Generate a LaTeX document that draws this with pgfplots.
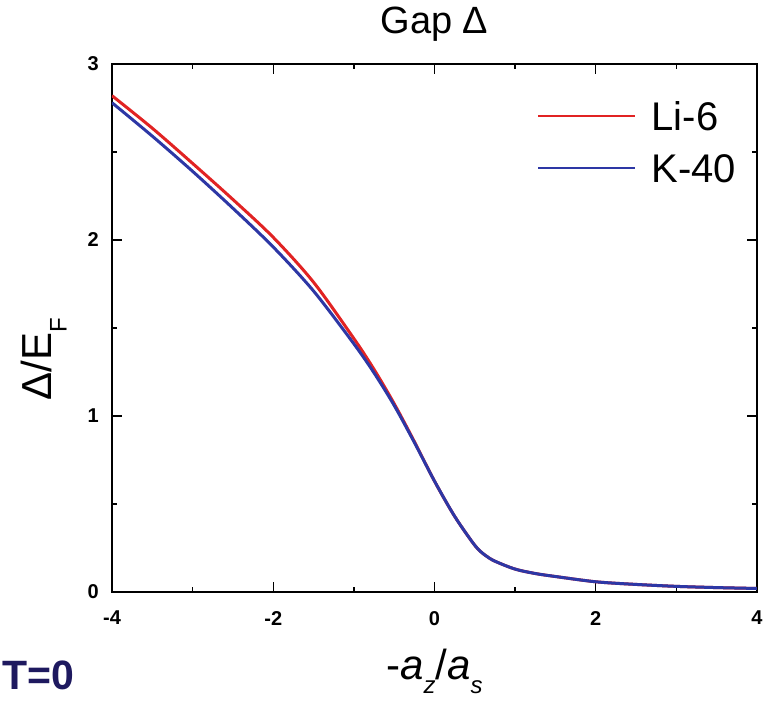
\documentclass[border=0pt]{standalone}
\usepackage{pgfplots}
\pgfplotsset{compat=1.18}
\usepackage{fontspec}
\setmainfont{Liberation Sans}
\definecolor{lired}{RGB}{225,35,35}
\definecolor{kblue}{RGB}{45,55,165}
\definecolor{navy}{RGB}{30,25,95}
\begin{document}
\begin{tikzpicture}
\path (-112pt,-111pt) rectangle (652pt,592pt);
\begin{axis}[
  scale only axis, width=645pt, height=528pt,
  xmin=-4, xmax=4, ymin=0, ymax=3,
  xtick={-4,-2,0,2,4}, ytick={0,1,2,3},
  minor xtick={-3,-1,1,3}, minor ytick={0.5,1.5,2.5},
  tick align=inside, major tick length=10pt, minor tick length=5pt,
  axis line style={line width=1.6pt},
  every tick/.append style={black, line width=1.4pt},
  /pgf/number format/assume math mode=true,
  tick label style={font=\fontsize{20}{20}\selectfont\bfseries, inner sep=0pt},
  xticklabel style={anchor=north, yshift=-19pt},
  yticklabel style={anchor=east, xshift=-13pt},
  title={Gap Δ},
  title style={at={(axis description cs:0.5,1)}, anchor=base, yshift=24pt, inner sep=0pt, font=\fontsize{38}{38}\selectfont},
  xlabel={-\textit{a}\raisebox{-14pt}{\fontsize{24}{24}\selectfont\textit{z}}/\textit{a}\raisebox{-14pt}{\fontsize{24}{24}\selectfont\textit{s}}},
  xlabel style={at={(axis description cs:0.5,0)}, anchor=base, yshift=-88pt, inner sep=0pt, font=\fontsize{42}{42}\selectfont},
  ylabel={Δ/E\raisebox{-15pt}{\fontsize{24}{24}\selectfont F}},
  ylabel style={at={(axis description cs:-0.1054,0.4403)}, anchor=center, inner sep=0pt, font=\fontsize{42}{42}\selectfont},
  legend image code/.code={\draw[#1, line width=2.5pt] (0pt,0pt) -- (96pt,0pt);},
  legend style={draw=none, fill=none, inner sep=0pt, at={(0.659,0.928)}, anchor=north west,
    font=\fontsize{40}{40}\selectfont, nodes={inner sep=0pt, text height=28pt, text depth=0pt},
    row sep=24pt, column sep=16pt},
  legend cell align=left,
]
\addplot[lired, line width=3pt, smooth] table {
x y
-4.0 2.82
-3.5 2.635
-3.0 2.435
-2.5 2.23
-2.0 2.015
-1.5 1.76
-1.0 1.44
-0.75 1.265
-0.5 1.07
-0.25 0.855
0.0 0.63
0.25 0.43
0.5 0.265
0.625 0.21
0.75 0.175
1.0 0.13
1.25 0.105
1.5 0.088
2.0 0.058
2.5 0.043
3.0 0.032
3.5 0.025
4.0 0.02
};
\addlegendentry{Li-6}
\addplot[kblue, line width=3pt, smooth] table {
x y
-4.0 2.78
-3.5 2.59
-3.0 2.39
-2.5 2.18
-2.0 1.96
-1.5 1.71
-1.0 1.41
-0.75 1.245
-0.5 1.06
-0.25 0.85
0.0 0.63
0.25 0.43
0.5 0.265
0.625 0.21
0.75 0.175
1.0 0.13
1.25 0.105
1.5 0.088
2.0 0.058
2.5 0.043
3.0 0.032
3.5 0.025
4.0 0.02
};
\addlegendentry{K-40}
\end{axis}
\node[font=\fontsize{41}{41}\selectfont\bfseries, text=navy, anchor=base west, inner sep=0pt] at (-110pt,-98pt) {T=0};
\end{tikzpicture}
\end{document}
